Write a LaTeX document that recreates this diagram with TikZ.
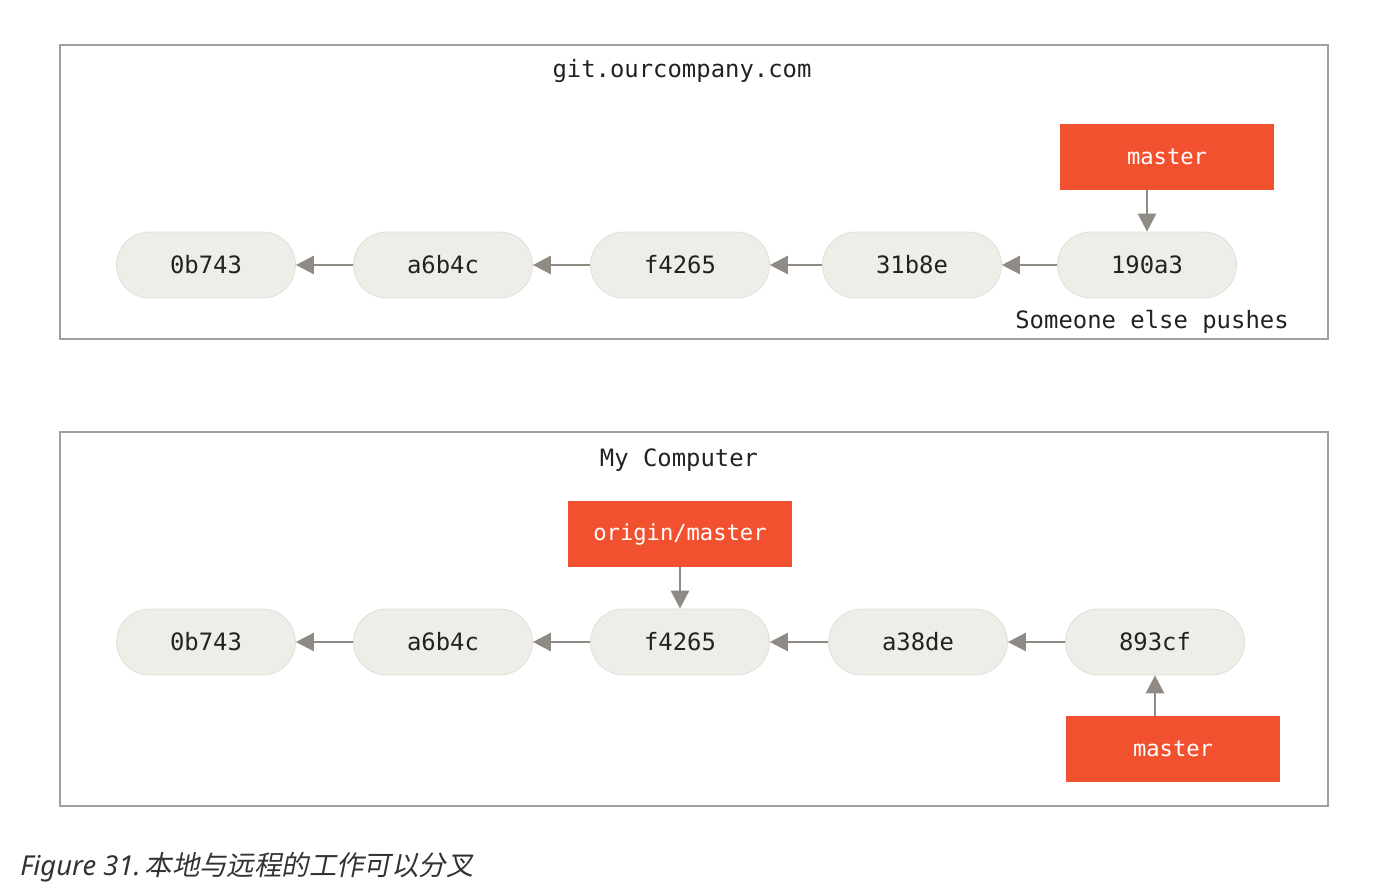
\documentclass[tikz,border=0pt]{standalone}
\usepackage{fontspec}
\setmainfont{Noto Sans}
\setmonofont{DejaVu Sans Mono}
\newfontfamily\cjk[FakeSlant=0.2]{Noto Sans CJK SC}
\usetikzlibrary{positioning, arrows.meta}
\definecolor{gitred}{HTML}{F25130}
\definecolor{commitfill}{HTML}{EEEDE7}
\definecolor{commitline}{HTML}{DEDCD4}
\definecolor{linegray}{HTML}{8F8A83}
\definecolor{framegray}{HTML}{A3A09A}
\definecolor{inkgray}{HTML}{222222}

\begin{document}
\begin{tikzpicture}[x=0.02cm,y=-0.02cm,commit/.style={draw=commitline,line width=0.4pt,fill=commitfill,rounded corners=0.66cm,minimum width=3.58cm,minimum height=1.32cm,inner sep=0pt,font=\ttfamily\fontsize{13.6}{16}\selectfont,text=inkgray},branch/.style={fill=gitred,minimum width=4.3cm,minimum height=1.32cm,inner sep=0pt,font=\ttfamily\fontsize{12.6}{15}\selectfont,text=white},arrow/.style={-{Triangle[length=0.36cm,width=0.36cm]},line width=1.5pt,draw=linegray},frame/.style={draw=framegray,line width=1.2pt},heading/.style={font=\ttfamily\fontsize{13.6}{16}\selectfont,text=inkgray}]
\useasboundingbox (0,0) rectangle (1375,884);
% server
\draw[frame] (60,45) rectangle (1328,339);
\node[heading] (server) at (682,71) {git.ourcompany.com};
\node[commit] (r0b743) at (206,265) {0b743};
\node[commit] (ra6b4c) at (443,265) {a6b4c};
\node[commit] (rf4265) at (680,265) {f4265};
\node[commit] (r31b8e) at (912,265) {31b8e};
\node[commit] (r190a3) at (1147,265) {190a3};
\node[branch] (rmaster) at (1167,157) {master};
\node[heading] (pushes) at (1152,322) {Someone else pushes};
\draw[arrow] (ra6b4c) -- (r0b743);\draw[arrow] (rf4265) -- (ra6b4c);
\draw[arrow] (r31b8e) -- (rf4265);\draw[arrow] (r190a3) -- (r31b8e);
\draw[arrow] (rmaster.south -| r190a3) -- (r190a3.north);
% local
\draw[frame] (60,432) rectangle (1328,806);
\node[heading] (local) at (679,460) {My Computer};
\node[commit] (l0b743) at (206,642) {0b743};
\node[commit] (la6b4c) at (443,642) {a6b4c};
\node[commit] (lf4265) at (680,642) {f4265};
\node[commit] (la38de) at (918,642) {a38de};
\node[commit] (l893cf) at (1155,642) {893cf};
\node[branch, minimum width=4.5cm] (origin) at (680,534) {origin/master};
\node[branch] (lmaster) at (1173,749) {master};
\draw[arrow] (la6b4c) -- (l0b743);\draw[arrow] (lf4265) -- (la6b4c);
\draw[arrow] (la38de) -- (lf4265);\draw[arrow] (l893cf) -- (la38de);
\draw[arrow] (origin) -- (lf4265);
\draw[arrow] (lmaster.north -| l893cf) -- (l893cf.south);
\node[anchor=base west, inner sep=0pt, font=\fontsize{15.6}{19}\selectfont, text=black!80] (caption) at (20,875) {\itshape Figure 31.\hspace{0.15em}{\cjk 本地与远程的工作可以分叉}};
\end{tikzpicture}
\end{document}
